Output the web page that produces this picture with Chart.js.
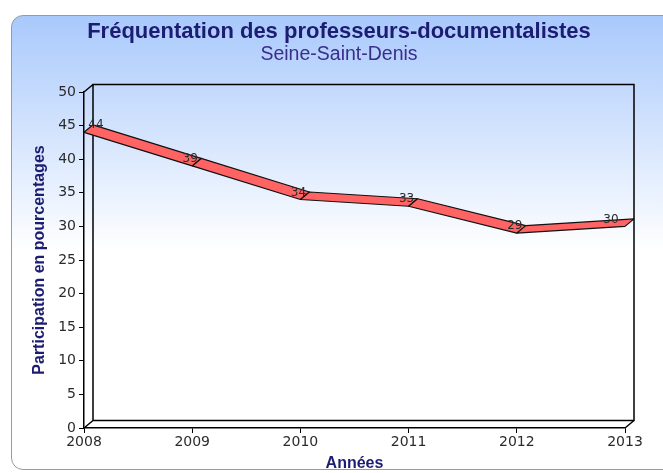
<!DOCTYPE html>
<html>
<head>
<meta charset="UTF-8" />
<title>Fréquentation des professeurs-documentalistes</title>
<script src="https://cdn.jsdelivr.net/npm/chart.js"></script>
<style>
  html, body { margin: 0; padding: 0; background: #fff; overflow: hidden; }
  #wrap { position: relative; width: 663px; height: 473px; }
  .panel {
    position: absolute; left: 11px; top: 15px; width: 680px; height: 453px;
    border: 1.5px solid #9a9a9a; border-radius: 12px;
    background: linear-gradient(to bottom, #a9c9fc 0%, #ffffff 52%, #ffffff 100%);
  }
  canvas { position: absolute; left: 0; top: 0; }
</style>
</head>
<body>
<div id="wrap">
  <div class="panel"></div>
  <canvas id="chart" width="663" height="473"></canvas>
</div>
<script>
// --- Data ---
const years = ['2008', '2009', '2010', '2011', '2012', '2013'];
const participation = [44, 39, 34, 33, 29, 30];
const yTicks = [0, 5, 10, 15, 20, 25, 30, 35, 40, 45, 50];

const titleText = 'Fréquentation des professeurs-documentalistes';
const subtitleText = 'Seine-Saint-Denis';

// depth of the fake 3D box
const DX = 9, DY = -7.5;
const NAVY = '#1c1c72';

// back wall + floor edges, ribbon, labels, titles
const frame3d = {
  id: 'frame3d',
  beforeDatasetsDraw(chart) {
    const { ctx, chartArea: a } = chart;
    ctx.save();
    ctx.strokeStyle = '#000';
    ctx.lineWidth = 1.5;
    ctx.beginPath();
    ctx.rect(a.left + DX, a.top + DY, a.right - a.left, a.bottom - a.top);
    ctx.moveTo(a.left, a.top); ctx.lineTo(a.left + DX, a.top + DY);
    ctx.moveTo(a.left, a.bottom); ctx.lineTo(a.left + DX, a.bottom + DY);
    ctx.moveTo(a.right, a.bottom); ctx.lineTo(a.right + DX, a.bottom + DY);
    ctx.stroke();
    ctx.restore();
  },
  afterDatasetsDraw(chart) {
    const { ctx, chartArea: a } = chart;
    const pts = chart.getDatasetMeta(0).data;
    ctx.save();
    // ribbon
    ctx.fillStyle = '#ff6363';
    ctx.strokeStyle = '#111';
    ctx.lineWidth = 1.2;
    ctx.lineJoin = 'round';
    for (let i = 0; i < pts.length - 1; i++) {
      const p = pts[i], q = pts[i + 1];
      ctx.beginPath();
      ctx.moveTo(p.x, p.y);
      ctx.lineTo(q.x, q.y);
      ctx.lineTo(q.x + DX, q.y + DY);
      ctx.lineTo(p.x + DX, p.y + DY);
      ctx.closePath();
      ctx.fill();
      ctx.stroke();
    }
    // value labels
    ctx.font = '12px "DejaVu Sans"';
    ctx.fillStyle = '#2b2b2b';
    ctx.textAlign = 'center';
    ctx.textBaseline = 'middle';
    pts.forEach((p, i) => {
      const x = Math.min(Math.max(p.x - 2, a.left + 12), a.right - 14);
      ctx.fillText(String(participation[i]), x, p.y - 7);
    });
    ctx.restore();
  },
  afterDraw(chart) {
    const { ctx } = chart;
    ctx.save();
    ctx.textAlign = 'center';
    ctx.textBaseline = 'middle';
    ctx.fillStyle = NAVY;
    ctx.font = 'bold 22px "Liberation Sans"';
    ctx.fillText(titleText, 339, 32);
    ctx.fillStyle = '#3a2e8c';
    ctx.font = '19.5px "Liberation Sans"';
    ctx.fillText(subtitleText, 339, 55);
    ctx.restore();
  }
};

new Chart(document.getElementById('chart'), {
  type: 'line',
  data: {
    labels: years,
    datasets: [{
      label: 'Participation',
      data: participation,
      showLine: false,
      pointRadius: 0,
      borderWidth: 0
    }]
  },
  options: {
    responsive: false,
    animation: false,
    devicePixelRatio: 1,
    layout: { padding: { top: 92, right: 38, bottom: 0, left: 0 } },
    plugins: {
      legend: { display: false },
      tooltip: { enabled: false }
    },
    scales: {
      x: {
        type: 'category',
        offset: false,
        grid: { drawOnChartArea: false, drawTicks: true, tickLength: 5, color: '#000' },
        border: { color: '#000', width: 1.5 },
        ticks: { color: '#2b2b2b', font: { family: 'DejaVu Sans', size: 14 }, padding: 1, maxRotation: 0, autoSkip: false },
        title: {
          display: true, text: 'Années', color: NAVY,
          font: { family: 'Liberation Sans', size: 16, weight: 'bold' },
          padding: { top: 1, bottom: 0 }
        },
        afterFit(s) { s.height = 45; }
      },
      y: {
        type: 'linear',
        min: 0,
        max: 50,
        afterBuildTicks(s) { s.ticks = yTicks.map(v => ({ value: v })); },
        grid: { drawOnChartArea: false, drawTicks: true, tickLength: 5, color: '#000' },
        border: { color: '#000', width: 1.5 },
        ticks: { color: '#2b2b2b', font: { family: 'DejaVu Sans', size: 14 }, padding: 3 },
        title: {
          display: true, text: 'Participation en pourcentages', color: NAVY,
          font: { family: 'Liberation Sans', size: 16, weight: 'bold' },
          padding: { top: 30, bottom: 0 }
        },
        afterFit(s) { s.width = 84; }
      }
    }
  },
  plugins: [frame3d]
});
</script>
</body>
</html>
